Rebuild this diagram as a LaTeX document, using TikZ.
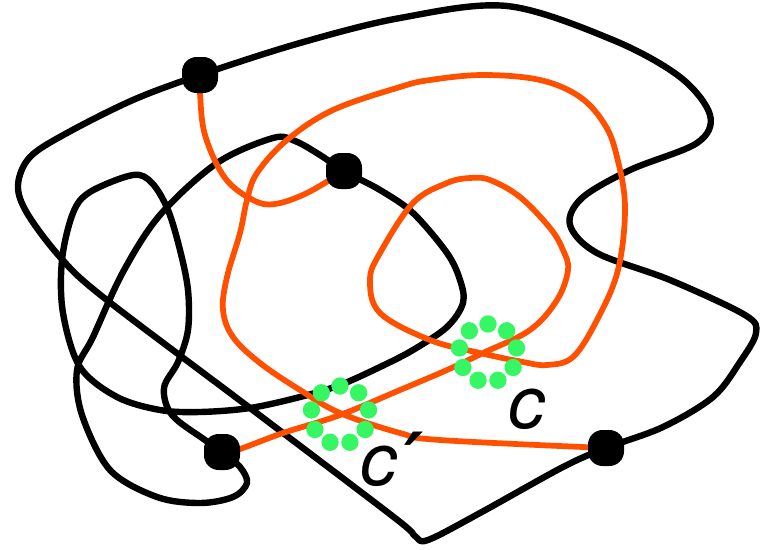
\documentclass[tikz,border=0pt]{standalone}
\usepackage{fontspec}
\newfontfamily\labfont{TeX Gyre Heros}
\newfontfamily\primefont{DejaVu Sans}
\usetikzlibrary{backgrounds}
\definecolor{curveorange}{RGB}{255,80,0}
\definecolor{dotgreen}{RGB}{54,246,100}

\begin{document}
\begin{tikzpicture}[x=0.75pt,y=-0.75pt,
  blackcurve/.style={line width=4.8pt, line join=round, line cap=round},
  orangecurve/.style={draw=curveorange, line width=4.3pt, line join=round, line cap=round},
  knot/.style={rectangle, fill=black, rounded corners=11pt, minimum size=27pt, inner sep=0pt},
  gdot/.style={circle, fill=dotgreen, minimum size=13pt, inner sep=0pt},
  lab/.style={font=\labfont\itshape\fontsize{55}{55}\selectfont, inner sep=0pt, anchor=base west}]

\useasboundingbox (0,0) rectangle (765,550);

% the four marked points
\node[knot] (A) at (200,75) {};
\node[knot] (B) at (344,171) {};
\node[knot] (C) at (222,452) {};
\node[knot] (D) at (606,448) {};

\begin{pgfonlayer}{background}
  % outer black loop through A and D
  \draw[blackcurve] plot[smooth cycle, tension=0.55] coordinates {
    (A.center) (300,43) (400,18) (507,6) (613,40) (680,77) (710,115)
    (697,143) (630,170) (582,198) (570,225) (597,253) (670,280)
    (745,315) (756,333) (740,362) (713,397) (663,427) (D.center)
    (563,467) (480,513) (428,540) (415,536) (395,518) (250,408)
    (103,297) (60,257) (27,213) (18,185) (30,157) (67,133) (133,100)};
  % inner black loop through B and C
  \draw[blackcurve] plot[smooth cycle, tension=0.55] coordinates {
    (B.center) (380,190) (413,213) (447,253) (460,280) (463,303)
    (447,327) (413,350) (380,367) (340,385) (300,397) (250,408)
    (200,412) (160,410) (117,397) (80,367) (63,313) (62,260)
    (73,213) (90,192) (133,175) (152,183) (168,210) (180,250)
    (188,290) (188,330) (178,362) (164,388) (172,415) (205,440)
    (C.center) (240,467) (247,483) (233,497) (200,503) (157,497)
    (110,470) (82,415) (77,370) (93,337) (123,272) (160,215)
    (217,163) (273,138) (295,141) (320,155)};
  % orange arc from A to B
  \draw[orangecurve] plot[smooth, tension=0.6] coordinates {
    (A.center) (200,93) (205,135) (225,178) (253,200) (275,204)
    (307,193) (B.center)};
  % orange path from C to D
  \draw[orangecurve] plot[smooth, tension=0.6] coordinates {
    (C.center) (237,450) (283,433) (340,415) (400,390) (447,370)
    (483,353) (530,330) (557,300) (568,270) (563,250) (550,228)
    (520,197) (490,180) (470,178) (447,183) (413,203) (380,253)
    (370,280) (380,313) (430,340) (480,353) (523,362) (547,365)
    (573,357) (597,320) (618,270) (625,207) (617,157) (605,125)
    (580,97) (540,80) (483,75) (430,80) (400,87) (333,110) (287,140)
    (257,173) (247,200) (240,233) (227,277) (223,310) (233,337)
    (260,363) (300,390) (340,413) (400,433) (440,440) (D.center)};
\end{pgfonlayer}

% rings of green dots around the two crossings
\coordinate (cp) at (340,415);
\coordinate (cq) at (488,353);
\foreach \k in {0,...,8} {
  \path (cp) ++(270+40*\k:29) node[gdot] (gp\k) {};
  \path (cq) ++(270+40*\k:29) node[gdot] (gq\k) {};
}

% labels
\node[lab] (lc) at (508,428) {c};
\node[lab] (lcp) at (360,485) {c\kern6pt{\primefont\bfseries\itshape ′}};
\end{tikzpicture}
\end{document}
